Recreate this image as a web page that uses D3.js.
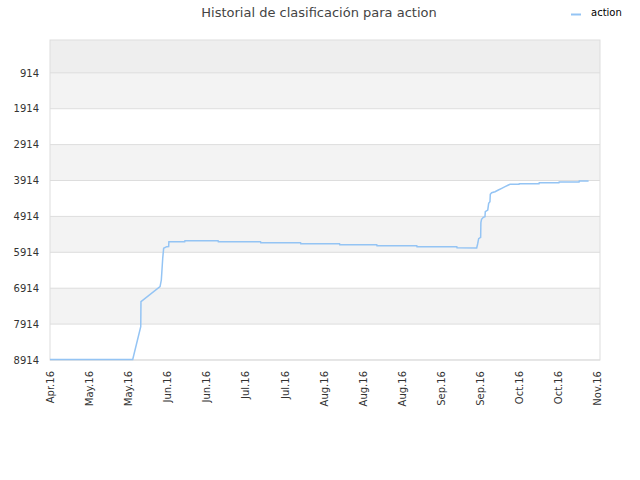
<!DOCTYPE html>
<html>
<head>
<meta charset="utf-8">
<script src="https://cdn.jsdelivr.net/npm/d3@7"></script>
<style>
  body { margin: 0; background: #fff; }
  text { font-family: "DejaVu Sans", sans-serif; }
</style>
</head>
<body>
<div id="chart"></div>
<script>
// data
var seriesName = "action";
var dates = [
  "2016-04-26T00:00", "2016-05-25T15:00", "2016-05-28T12:00", "2016-05-28T14:00",
  "2016-06-04T10:00", "2016-06-04T21:00", "2016-06-05T09:00", "2016-06-05T17:00",
  "2016-06-06T19:00", "2016-06-07T12:00", "2016-06-07T14:00", "2016-06-13T06:00",
  "2016-06-13T08:00", "2016-06-25T05:00", "2016-06-25T07:00", "2016-07-10T10:00",
  "2016-07-10T12:00", "2016-07-24T18:00", "2016-07-24T20:00", "2016-08-07T17:00",
  "2016-08-07T19:00", "2016-08-21T01:00", "2016-08-21T03:00", "2016-09-04T09:00",
  "2016-09-04T11:00", "2016-09-18T17:00", "2016-09-18T19:00", "2016-09-25T20:00",
  "2016-09-26T04:00", "2016-09-26T13:00", "2016-09-27T06:00", "2016-09-27T08:00",
  "2016-09-27T14:00", "2016-09-28T05:00", "2016-09-28T19:00", "2016-09-28T22:00",
  "2016-09-29T19:00", "2016-09-30T03:00", "2016-09-30T14:00", "2016-09-30T17:00",
  "2016-10-01T05:00", "2016-10-02T10:00", "2016-10-03T14:00", "2016-10-04T19:00",
  "2016-10-06T00:00", "2016-10-07T05:00", "2016-10-07T19:00", "2016-10-11T00:00",
  "2016-10-11T02:00", "2016-10-18T04:00", "2016-10-18T06:00", "2016-10-25T07:00",
  "2016-10-25T09:00", "2016-11-01T12:00", "2016-11-01T14:00", "2016-11-04T22:00"
];
var ranks = [
  8900, 8900, 7986, 7290,
  6872, 6686, 6081, 5803,
  5758, 5755, 5622, 5620,
  5592, 5594, 5622, 5622,
  5648, 5648, 5676, 5676,
  5704, 5704, 5732, 5732,
  5760, 5760, 5790, 5794,
  5683, 5535, 5496, 5089,
  4995, 4939, 4922, 4783,
  4736, 4549, 4504, 4298,
  4254, 4226, 4178, 4131,
  4086, 4039, 4020, 4020,
  4003, 4003, 3975, 3975,
  3956, 3956, 3928, 3928
];
var yTicks = [914, 1914, 2914, 3914, 4914, 5914, 6914, 7914, 8914];
var xTickDates = [
  "2016-04-26", "2016-05-10", "2016-05-24", "2016-06-07", "2016-06-21",
  "2016-07-05", "2016-07-19", "2016-08-02", "2016-08-16", "2016-08-30",
  "2016-09-13", "2016-09-27", "2016-10-11", "2016-10-25", "2016-11-08"
];
var xStart = "2016-04-26", xEnd = "2016-11-09";

var margin = { top: 40, right: 40, bottom: 120, left: 50 },
    width = 640 - margin.left - margin.right,
    height = 480 - margin.top - margin.bottom;

var parse = d3.isoParse;
var data = dates.map(function (d, i) { return { date: parse(d), rank: ranks[i] }; });

var svg = d3.select("#chart")
    .append("svg")
    .attr("width", 640)
    .attr("height", 480);

var g = svg.append("g")
    .attr("transform", "translate(" + margin.left + "," + margin.top + ")");

var x = d3.scaleTime()
    .domain([parse(xStart), parse(xEnd)])
    .range([0, width]);

var y = d3.scaleLinear()
    .domain([0, 8914])
    .range([0, height]);

// background bands
var edges = [0].concat(yTicks);
var bands = [];
for (var i = 0; i < edges.length - 1; i++) {
    bands.push({ a: edges[i], b: edges[i + 1], i: i });
}
g.selectAll(".band").data(bands).enter().append("rect")
    .attr("x", 0)
    .attr("width", width)
    .attr("y", function (d) { return y(d.a); })
    .attr("height", function (d) { return y(d.b) - y(d.a); })
    .attr("fill", function (d) { return d.i == 0 ? "#eeeeee" : (d.i % 2 == 1 ? "#f3f3f3" : "#ffffff"); });

// grid lines
g.selectAll(".grid").data(yTicks).enter().append("line")
    .attr("x1", 0).attr("x2", width)
    .attr("y1", function (d) { return y(d); })
    .attr("y2", function (d) { return y(d); })
    .attr("stroke", "#dddddd")
    .attr("stroke-width", 1);

// frame
g.append("rect")
    .attr("x", 0).attr("y", 0)
    .attr("width", width).attr("height", height)
    .attr("fill", "none")
    .attr("stroke", "#dddddd");

// Y axis
var yAxis = g.append("g")
    .call(d3.axisLeft(y).tickValues(yTicks).tickSize(0).tickPadding(11).tickFormat(d3.format("d")));
yAxis.select(".domain").remove();
yAxis.selectAll("text")
    .attr("font-size", "10px")
    .attr("font-family", "DejaVu Sans")
    .attr("fill", "#333");

// X axis
var xAxis = g.append("g")
    .attr("transform", "translate(0," + height + ")")
    .call(d3.axisBottom(x)
        .tickValues(xTickDates.map(function (d) { return parse(d); }))
        .tickSize(0)
        .tickFormat(d3.timeFormat("%b.%y")));
xAxis.select(".domain").remove();
xAxis.selectAll("text")
    .attr("font-size", "10px")
    .attr("font-family", "DejaVu Sans")
    .attr("fill", "#333")
    .attr("transform", "rotate(-90)")
    .attr("x", -11)
    .attr("y", 0)
    .attr("dy", "0.35em")
    .style("text-anchor", "end");

// the line
var line = d3.line()
    .x(function (d) { return x(d.date); })
    .y(function (d) { return y(d.rank); });

g.append("path")
    .datum(data)
    .attr("fill", "none")
    .attr("stroke", "#94c4f4")
    .attr("stroke-width", 1.5)
    .attr("d", line);

// title
svg.append("text")
    .attr("x", 319)
    .attr("y", 17)
    .attr("font-size", "13px")
    .attr("fill", "#444")
    .style("text-anchor", "middle")
    .text("Historial de clasificación para " + seriesName);

// legend
svg.append("line")
    .attr("x1", 571).attr("x2", 581)
    .attr("y1", 14.5).attr("y2", 14.5)
    .attr("stroke", "#94c4f4")
    .attr("stroke-width", 2);
svg.append("text")
    .attr("x", 591)
    .attr("y", 16)
    .attr("font-size", "10px")
    .attr("fill", "#000")
    .text(seriesName);
</script>
</body>
</html>
